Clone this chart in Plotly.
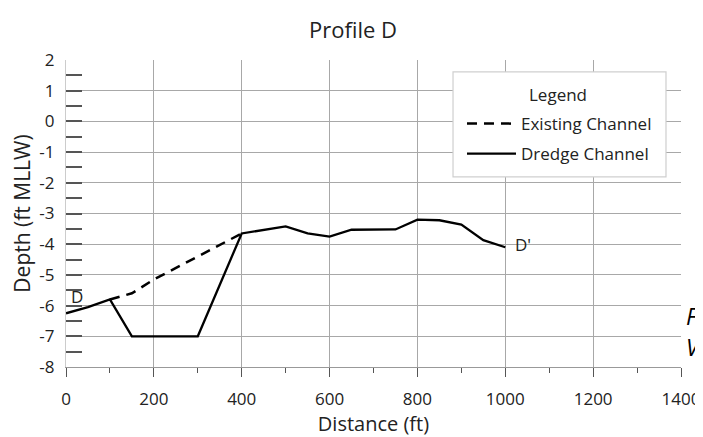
import plotly.graph_objects as go

# Data
existing_x = [100, 150, 200, 400]
existing_y = [-5.8, -5.6, -5.15, -3.65]

dredge_x = [0, 50, 100, 150, 300, 400, 500, 550, 600, 650, 750, 800, 850, 900, 950, 1000]
dredge_y = [-6.25, -6.05, -5.8, -7.0, -7.0, -3.65, -3.42, -3.65, -3.75, -3.53, -3.52,
            -3.2, -3.22, -3.36, -3.87, -4.1]

x_ticks = [0, 200, 400, 600, 800, 1000, 1200, 1400]
y_ticks = [2, 1, 0, -1, -2, -3, -4, -5, -6, -7, -8]

FONT = "Open Sans"
TXT = "#222222"

fig = go.Figure()
fig.add_trace(go.Scatter(
    x=existing_x, y=existing_y, mode="lines", name="Existing Channel",
    line=dict(color="black", width=2.5, dash="10px,7px"), legendgroup="a"))
fig.add_trace(go.Scatter(
    x=dredge_x, y=dredge_y, mode="lines", name="Dredge Channel",
    line=dict(color="black", width=2.3), legendgroup="b"))

fig.add_annotation(x=dredge_x[0], y=dredge_y[0], text="D", showarrow=False,
                   xanchor="left", yanchor="bottom", xshift=3, yshift=3,
                   font=dict(family=FONT, size=17, color=TXT))
fig.add_annotation(x=dredge_x[-1], y=dredge_y[-1], text="D'", showarrow=False,
                   xanchor="left", yanchor="middle", xshift=8, yshift=3,
                   font=dict(family=FONT, size=17, color=TXT))

# legend frame and heading
fig.add_shape(type="rect", xref="paper", yref="paper", x0=0.6293, x1=0.9756,
              y0=0.619, y1=0.961, layer="above",
              fillcolor="white", line=dict(color="#cfcfcf", width=1.2))
fig.add_annotation(xref="paper", yref="paper", x=0.80, y=0.886, text="Legend",
                   showarrow=False, xanchor="center", yanchor="middle",
                   font=dict(family=FONT, size=17, color=TXT))

# cropped italic letters at the right edge of the scan
fig.add_annotation(xref="paper", yref="paper", x=1.0, y=0.108, text="<i>F</i>",
                   showarrow=False, xanchor="left", xshift=3,
                   font=dict(family=FONT, size=23, color="black"))
fig.add_annotation(xref="paper", yref="paper", x=1.0, y=0.005, text="<i>V</i>",
                   showarrow=False, xanchor="left", xshift=3,
                   font=dict(family=FONT, size=23, color="black"))

fig.update_layout(
    width=703, height=437,
    margin=dict(l=58, r=30, t=52, b=78),
    paper_bgcolor="white", plot_bgcolor="white",
    font=dict(family=FONT, size=17, color=TXT),
    title=dict(text="Profile D", x=345 / 703, xanchor="center", y=0.95, yanchor="middle",
               font=dict(family=FONT, size=22, color=TXT)),
    legend=dict(
        x=0.6439, y=0.850, xanchor="left", yanchor="top",
        bgcolor="rgba(0,0,0,0)", borderwidth=0, itemwidth=49,
        font=dict(family=FONT, size=17, color=TXT),
        traceorder="grouped", tracegroupgap=5,
    ),
    xaxis=dict(
        range=[0, 1400], tickvals=x_ticks, ticktext=[str(v) for v in x_ticks],
        showgrid=True, gridcolor="#a8a8a8", gridwidth=1.4, zeroline=False,
        showline=True, linecolor="#999999", linewidth=1.4,
        ticks="outside", ticklen=9, tickcolor="#555555", tickwidth=1.4,
        minor=dict(dtick=100, ticks="outside", ticklen=5, tickcolor="#555555",
                   tickwidth=1.4, showgrid=False),
        ticklabelstandoff=7,
        title=dict(text="Distance (ft)", standoff=5, font=dict(size=20)),
        automargin=False, fixedrange=True,
    ),
    yaxis=dict(
        range=[-8, 2], tickvals=y_ticks, ticktext=[str(v) for v in y_ticks],
        showgrid=True, gridcolor="#a8a8a8", gridwidth=1.4, zeroline=False,
        showline=True, linecolor="#cccccc", linewidth=1.4,
        ticks="inside", ticklen=11, tickcolor="#555555", tickwidth=1.6,
        minor=dict(dtick=0.5, ticks="inside", ticklen=16, tickcolor="#555555",
                   tickwidth=1.6, showgrid=False),
        ticklabelstandoff=7,
        title=dict(text="Depth (ft MLLW)", standoff=13, font=dict(size=21)),
        automargin=False, fixedrange=True,
    ),
)

fig.write_html("out.html")
